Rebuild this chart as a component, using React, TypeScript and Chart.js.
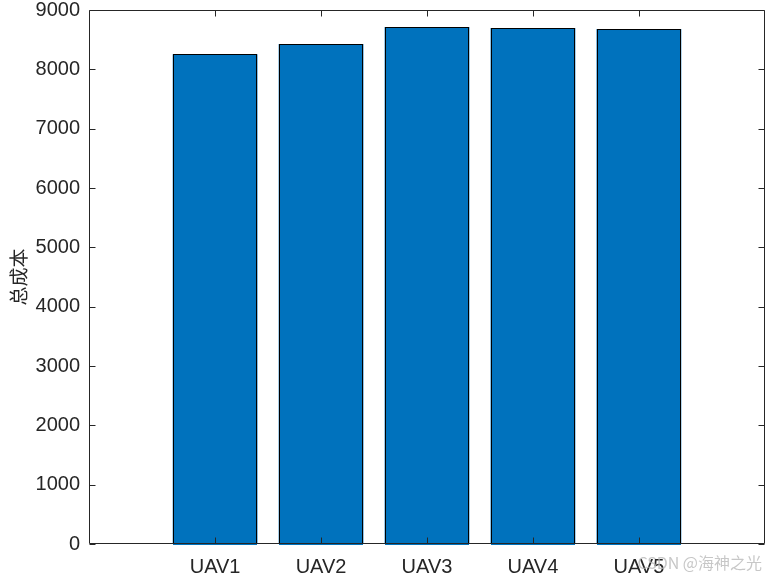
import React, { useEffect, useRef } from 'react';
import { Chart, registerables } from 'chart.js';

Chart.register(...registerables);

const categories: string[] = ['UAV1', 'UAV2', 'UAV3', 'UAV4', 'UAV5'];
const totalCost: number[] = [8255, 8425, 8712, 8695, 8680];
const yTickValues: number[] = [0, 1000, 2000, 3000, 4000, 5000, 6000, 7000, 8000, 9000];
const yTitle = '总成本';
const watermark = 'CSDN @海神之光';

const AXIS_COLOR = '#262626';
const BAR_COLOR = '#0072BD';

const matlabAxes = {
  id: 'matlabAxes',
  afterDatasetsDraw(chart: any) {
    const { ctx } = chart;
    const meta = chart.getDatasetMeta(0);
    ctx.save();
    ctx.strokeStyle = '#000000';
    ctx.lineWidth = 1;
    meta.data.forEach((el: any) => {
      const p = el.getProps(['x', 'y', 'base', 'width'], true);
      const l = Math.round(p.x - p.width / 2) + 0.5;
      const r = Math.round(p.x + p.width / 2) - 0.5;
      const t = Math.round(p.y) + 0.5;
      const b = Math.round(p.base) - 0.5;
      ctx.fillStyle = BAR_COLOR;
      ctx.fillRect(l - 0.5, t - 0.5, r - l + 1, b - t + 2);
      ctx.strokeRect(l, t, r - l, b - t);
    });
    ctx.restore();
  },
  afterDraw(chart: any) {
    const { ctx, chartArea } = chart;
    const xs = chart.scales.x;
    const ys = chart.scales.y;
    const l = Math.round(chartArea.left) + 0.5;
    const r = Math.round(chartArea.right) - 0.5;
    const t = Math.round(chartArea.top) + 0.5;
    const b = Math.round(chartArea.bottom) - 0.5;
    ctx.save();
    ctx.font = '16px "Noto Sans CJK SC", "Liberation Sans", sans-serif';
    ctx.fillStyle = 'rgba(185,185,185,0.8)';
    ctx.textAlign = 'right';
    ctx.textBaseline = 'middle';
    ctx.fillText(watermark, 762, 563);
    ctx.strokeStyle = AXIS_COLOR;
    ctx.lineWidth = 1;
    ctx.beginPath();
    ctx.rect(l, t, r - l, b - t);
    const tl = 6;
    yTickValues.forEach((v) => {
      const y = Math.round(ys.getPixelForValue(v)) + 0.5;
      ctx.moveTo(l, y);
      ctx.lineTo(l + tl, y);
      ctx.moveTo(r, y);
      ctx.lineTo(r - tl, y);
    });
    categories.forEach((_, i) => {
      const x = Math.round(xs.getPixelForValue(i + 1)) + 0.5;
      ctx.moveTo(x, b);
      ctx.lineTo(x, b - tl);
      ctx.moveTo(x, t);
      ctx.lineTo(x, t + tl);
    });
    ctx.stroke();
    ctx.restore();
  },
};

export default function App() {
  const ref = useRef<HTMLCanvasElement | null>(null);
  useEffect(() => {
    if (!ref.current) return;
    const chart = new Chart(ref.current, {
      type: 'bar',
      data: {
        datasets: [
          {
            data: totalCost.map((v, i) => ({ x: i + 1, y: v })),
            backgroundColor: BAR_COLOR,
            borderWidth: 0,
            barPercentage: 0.8,
            categoryPercentage: 1,
          },
        ],
      },
      options: {
        responsive: false,
        animation: false,
        layout: { padding: { top: 10, right: 3, left: 0, bottom: 0 } },
        plugins: { legend: { display: false }, tooltip: { enabled: false } },
        scales: {
          x: {
            type: 'linear',
            offset: false,
            min: -0.19,
            max: 6.19,
            afterBuildTicks: (s: any) => {
              s.ticks = categories.map((_, i) => ({ value: i + 1 }));
            },
            afterFit: (s: any) => {
              s.height = 33;
              s.paddingLeft = 0;
              s.paddingRight = 0;
            },
            grid: { display: false, drawTicks: false, offset: false },
            border: { display: false },
            ticks: {
              autoSkip: false,
              maxRotation: 0,
              padding: 11,
              color: AXIS_COLOR,
              font: { family: '"Liberation Sans", Arial, sans-serif', size: 20 },
              callback: (v: any) => categories[Number(v) - 1] ?? '',
            },
          },
          y: {
            type: 'linear',
            min: 0,
            max: 9000,
            afterBuildTicks: (s: any) => {
              s.ticks = yTickValues.map((v) => ({ value: v }));
            },
            afterFit: (s: any) => {
              s.width = 89;
              s.paddingTop = 0;
              s.paddingBottom = 0;
            },
            grid: { display: false, drawTicks: false },
            border: { display: false },
            title: {
              display: true,
              text: yTitle,
              color: AXIS_COLOR,
              font: { family: '"Noto Sans CJK SC", sans-serif', size: 19 },
              padding: { top: 7, bottom: 0 },
            },
            ticks: {
              padding: 9,
              color: AXIS_COLOR,
              font: { family: '"Liberation Sans", Arial, sans-serif', size: 20 },
              callback: (v: any) => String(v),
            },
          },
        },
      },
      plugins: [matlabAxes],
    } as any);
    return () => chart.destroy();
  }, []);
  return (
    <div style={{ position: 'fixed', left: 0, top: 0, width: 768, height: 577, background: '#fff' }}>
      <canvas ref={ref} width={768} height={577} style={{ display: 'block' }} />
    </div>
  );
}
